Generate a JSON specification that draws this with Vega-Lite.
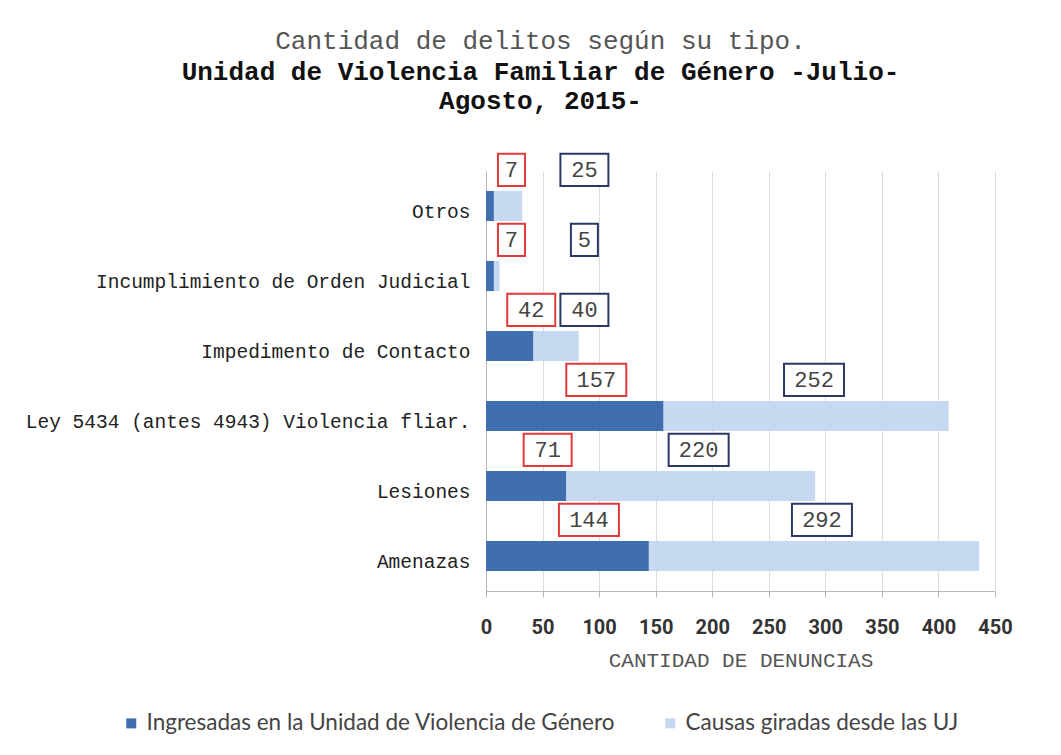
{
  "$schema": "https://vega.github.io/schema/vega-lite/v6.json",
  "width": 509,
  "height": 420,
  "autosize": {"type": "none"},
  "padding": {"left": 486, "top": 171, "right": 66, "bottom": 164},
  "background": "white",
  "title": {
    "text": "Cantidad de delitos según su tipo.",
    "subtitle": ["Unidad de Violencia Familiar de Género -Julio-", "Agosto, 2015-"],
    "anchor": "middle",
    "frame": "group",
    "dx": -200,
    "offset": 36,
    "font": "Liberation Mono",
    "fontSize": 26,
    "fontWeight": "normal",
    "color": "#555555",
    "subtitleFont": "Liberation Mono",
    "subtitleFontSize": 26,
    "subtitleFontWeight": "bold",
    "subtitleColor": "#111111",
    "subtitleLineHeight": 29,
    "subtitlePadding": 5
  },
  "data": {
    "values": [
      {"tipo": "Otros", "serie": "Ingresadas en la Unidad de Violencia de Género", "valor": 7},
      {"tipo": "Otros", "serie": "Causas giradas desde las UJ", "valor": 25},
      {"tipo": "Incumplimiento de Orden Judicial", "serie": "Ingresadas en la Unidad de Violencia de Género", "valor": 7},
      {"tipo": "Incumplimiento de Orden Judicial", "serie": "Causas giradas desde las UJ", "valor": 5},
      {"tipo": "Impedimento de Contacto", "serie": "Ingresadas en la Unidad de Violencia de Género", "valor": 42},
      {"tipo": "Impedimento de Contacto", "serie": "Causas giradas desde las UJ", "valor": 40},
      {"tipo": "Ley 5434 (antes 4943) Violencia fliar.", "serie": "Ingresadas en la Unidad de Violencia de Género", "valor": 157},
      {"tipo": "Ley 5434 (antes 4943) Violencia fliar.", "serie": "Causas giradas desde las UJ", "valor": 252},
      {"tipo": "Lesiones", "serie": "Ingresadas en la Unidad de Violencia de Género", "valor": 71},
      {"tipo": "Lesiones", "serie": "Causas giradas desde las UJ", "valor": 220},
      {"tipo": "Amenazas", "serie": "Ingresadas en la Unidad de Violencia de Género", "valor": 144},
      {"tipo": "Amenazas", "serie": "Causas giradas desde las UJ", "valor": 292}
    ]
  },
  "transform": [
    {"calculate": "datum.serie === 'Ingresadas en la Unidad de Violencia de Género' ? 1 : 2", "as": "k"},
    {"stack": "valor", "groupby": ["tipo"], "sort": [{"field": "k", "order": "ascending"}], "as": ["v0", "v1"]},
    {"calculate": "(datum.v0 + datum.v1) / 2", "as": "mid"},
    {"calculate": "datum.k === 1 ? datum.mid + 19 : max(datum.mid, 80) + 7", "as": "lx"},
    {"calculate": "toString(length(toString(datum.valor)))", "as": "dig"}
  ],
  "encoding": {
    "y": {
      "field": "tipo",
      "type": "nominal",
      "sort": ["Otros", "Incumplimiento de Orden Judicial", "Impedimento de Contacto", "Ley 5434 (antes 4943) Violencia fliar.", "Lesiones", "Amenazas"],
      "scale": {"paddingInner": 0.57, "paddingOuter": 0.285},
      "axis": {
        "title": null,
        "labelFont": "Liberation Mono",
        "labelFontSize": 19.5,
        "labelColor": "#222222",
        "labelPadding": 16,
        "labelOffset": 6,
        "ticks": false,
        "domainColor": "#b8b8b8",
        "labelLimit": 600
      }
    }
  },
  "layer": [
    {
      "mark": {"type": "bar"},
      "encoding": {
        "x": {
          "field": "v0",
          "type": "quantitative",
          "scale": {"domain": [0, 450], "nice": false},
          "axis": {
            "values": [0, 50, 100, 150, 200, 250, 300, 350, 400, 450],
            "labelOverlap": false,
            "labelFlush": false,
            "labelBound": false,
            "title": "CANTIDAD DE DENUNCIAS",
            "titleFont": "Liberation Mono",
            "titleFontSize": 21,
            "titleFontWeight": "normal",
            "titleColor": "#555555",
            "titlePadding": 12,
            "labelFont": "Roboto",
            "labelFontSize": 20,
            "labelFontWeight": "bold",
            "labelColor": "#333333",
            "labelPadding": 20,
            "tickSize": 6,
            "tickColor": "#b8b8b8",
            "domainColor": "#b8b8b8",
            "grid": true,
            "gridColor": "#dcdcdc"
          }
        },
        "x2": {"field": "v1"},
        "color": {
          "field": "serie",
          "type": "nominal",
          "scale": {
            "domain": ["Ingresadas en la Unidad de Violencia de Género", "Causas giradas desde las UJ"],
            "range": ["#3f6fae", "#c6d9f1"]
          },
          "legend": {
            "title": null,
            "orient": "none",
            "legendX": -366,
            "legendY": 541,
            "direction": "horizontal",
            "columns": 2,
            "columnPadding": 43,
            "symbolType": "square",
            "symbolSize": 100,
            "symbolStrokeWidth": 0,
            "labelFont": "Lato",
            "labelFontSize": 22.5,
            "labelColor": "#444444",
            "labelLimit": 700,
            "labelOffset": 4
          }
        }
      }
    },
    {
      "mark": {"type": "point", "filled": true, "fill": "white", "strokeWidth": 2, "opacity": 1, "size": 900},
      "encoding": {
        "x": {"field": "lx", "type": "quantitative"},
        "y": {"field": "tipo", "type": "nominal", "bandPosition": -0.7, "sort": ["Otros", "Incumplimiento de Orden Judicial", "Impedimento de Contacto", "Ley 5434 (antes 4943) Violencia fliar.", "Lesiones", "Amenazas"]},
        "shape": {
          "field": "dig",
          "type": "nominal",
          "scale": {
            "domain": ["1", "2", "3"],
            "range": ["M-0.9,-1.07L0.9,-1.07L0.9,1.07L-0.9,1.07Z", "M-1.6,-1.07L1.6,-1.07L1.6,1.07L-1.6,1.07Z", "M-2,-1.07L2,-1.07L2,1.07L-2,1.07Z"]
          },
          "legend": null
        },
        "stroke": {
          "field": "k",
          "type": "nominal",
          "scale": {"domain": [1, 2], "range": ["#e03a3a", "#2a3966"]},
          "legend": null
        }
      }
    },
    {
      "mark": {"type": "text", "font": "Liberation Mono", "fontSize": 22, "color": "#444444", "baseline": "middle", "align": "center"},
      "encoding": {
        "x": {"field": "lx", "type": "quantitative"},
        "y": {"field": "tipo", "type": "nominal", "bandPosition": -0.7, "sort": ["Otros", "Incumplimiento de Orden Judicial", "Impedimento de Contacto", "Ley 5434 (antes 4943) Violencia fliar.", "Lesiones", "Amenazas"]},
        "text": {"field": "valor", "type": "quantitative"}
      }
    }
  ],
  "config": {"view": {"stroke": null}}
}
